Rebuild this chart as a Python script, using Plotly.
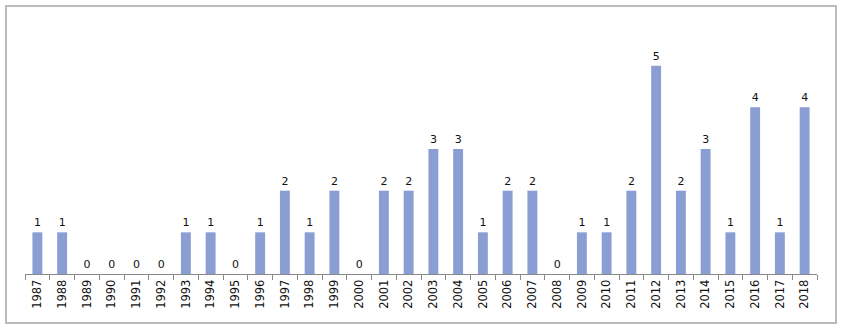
import plotly.graph_objects as go

years = [str(y) for y in range(1987, 2019)]
counts = [1, 1, 0, 0, 0, 0, 1, 1, 0, 1, 2, 1, 2, 0, 2, 2, 3, 3, 1, 2, 2, 0, 1, 1, 2, 5, 2, 3, 1, 4, 1, 4]

L, R, T, B = 25, 29, 24, 59
W, H = 846, 333
pw, ph = W - L - R, H - T - B

fig = go.Figure(go.Bar(
    x=years, y=counts,
    marker=dict(color="#8B9ED4", line=dict(width=0)),
    text=[str(c) for c in counts], textposition="outside",
    textfont=dict(family="DejaVu Sans", size=11, color="#111111"),
    cliponaxis=False, hoverinfo="skip",
))

fig.update_layout(
    width=W, height=H,
    margin=dict(l=L, r=R, t=T, b=B, autoexpand=False),
    paper_bgcolor="white", plot_bgcolor="white",
    bargap=0.6, showlegend=False,
    shapes=[dict(type="rect", xref="paper", yref="paper",
                 x0=-(L - 6) / pw, x1=1 + (R - 10) / pw,
                 y0=-(B - 10) / ph, y1=1 + (T - 6) / ph,
                 line=dict(color="#BBBBBB", width=2), layer="below")],
)
fig.update_xaxes(
    type="category", tickangle=-90, tickson="boundaries",
    ticks="outside", ticklen=5, tickcolor="#888888",
    showline=True, linecolor="#888888", linewidth=1,
    tickfont=dict(family="DejaVu Sans", size=11.5, color="#111111"),
    showgrid=False, automargin=False, fixedrange=True,
)
fig.update_yaxes(range=[0, 6], visible=False, showgrid=False, automargin=False, fixedrange=True)

fig.write_html("out.html", config={"displayModeBar": False},
               post_script="document.body.style.margin='0';document.body.style.overflow='hidden';")
